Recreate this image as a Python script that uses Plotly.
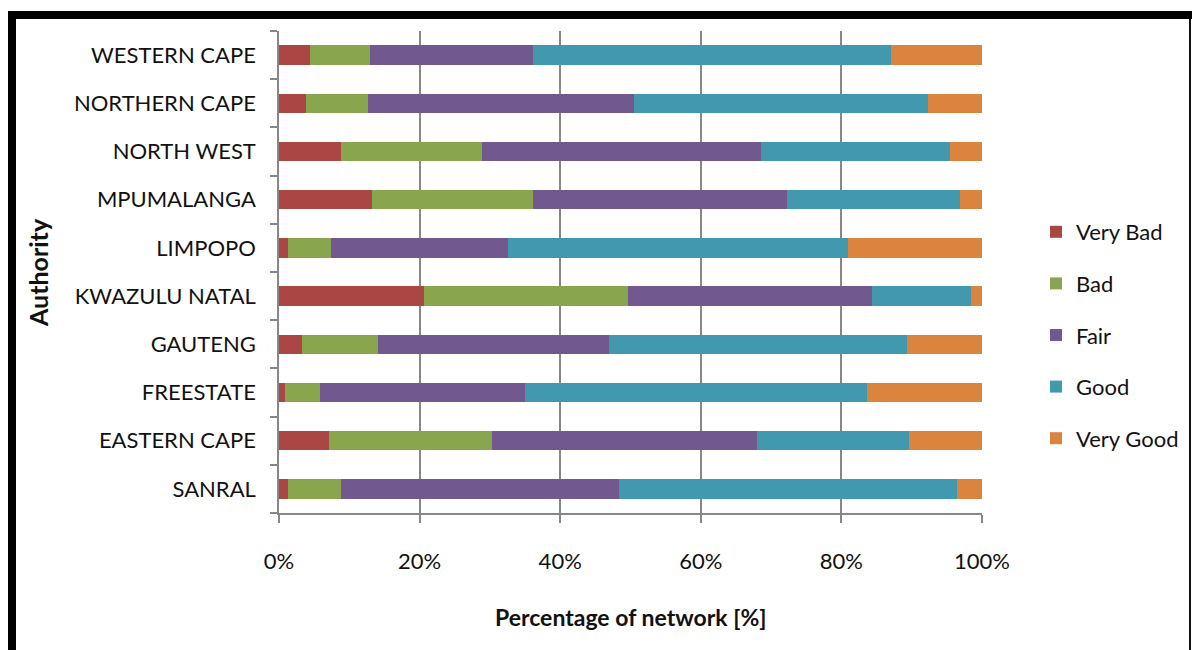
import plotly.graph_objects as go

# Categories bottom-to-top
authorities = ["SANRAL", "EASTERN CAPE", "FREESTATE", "GAUTENG", "KWAZULU NATAL",
               "LIMPOPO", "MPUMALANGA", "NORTH WEST", "NORTHERN CAPE", "WESTERN CAPE"]

very_bad  = [1.3, 7.1, 0.8, 3.3, 20.6, 1.3, 13.2, 8.8, 3.9, 4.4]
bad       = [7.5, 23.2, 5.0, 10.8, 29.1, 6.1, 23.0, 20.1, 8.8, 8.6]
fair      = [39.5, 37.7, 29.2, 32.8, 34.6, 25.2, 36.0, 39.6, 37.8, 23.2]
good      = [48.1, 21.6, 48.7, 42.4, 14.2, 48.4, 24.6, 26.9, 41.8, 50.9]
very_good = [3.6, 10.4, 16.3, 10.7, 1.5, 19.0, 3.2, 4.6, 7.7, 12.9]

series = [
    ("Very Bad", very_bad, "#AA4643"),
    ("Bad", bad, "#89A54E"),
    ("Fair", fair, "#71588F"),
    ("Good", good, "#4198AF"),
    ("Very Good", very_good, "#DB843D"),
]

tick_vals = [0, 20, 40, 60, 80, 100]
tick_text = ["0%", "20%", "40%", "60%", "80%", "100%"]

FONT = "Lato"

fig = go.Figure()
for name, vals, color in series:
    fig.add_trace(go.Bar(
        y=authorities, x=vals, name=name, orientation="h",
        marker=dict(color=color, line=dict(width=0)),
        legendgroup=name,
    ))

# pixel geometry of plot area
L, R, T, B = 279, 982, 31, 513
W, H = R - L, B - T

def px(x):
    return (x - L) / W

def py(y):
    return (B - y) / H

shapes = [
    # thick black frame: left, top, thin right
    dict(type="rect", xref="paper", yref="paper", x0=px(8), x1=px(16), y0=py(660), y1=py(11),
         fillcolor="black", line=dict(width=0), layer="above"),
    dict(type="rect", xref="paper", yref="paper", x0=px(8), x1=px(1192), y0=py(19), y1=py(11),
         fillcolor="black", line=dict(width=0), layer="above"),
    dict(type="rect", xref="paper", yref="paper", x0=px(1189), x1=px(1191), y0=py(660), y1=py(19),
         fillcolor="#111111", line=dict(width=0), layer="above"),
]

annotations = [
    dict(text="<b>Percentage of network [%]</b>", xref="paper", yref="paper",
         x=px(630), y=py(617), showarrow=False, xanchor="center", yanchor="middle",
         font=dict(family=FONT, size=23, color="#111111")),
    dict(text="<b>Authority</b>", xref="paper", yref="paper",
         x=px(38), y=py(273), showarrow=False, xanchor="center", yanchor="middle",
         textangle=-90, font=dict(family=FONT, size=25, color="#111111")),
]

fig.update_layout(
    barmode="stack",
    bargap=0.6,
    width=1192, height=650,
    margin=dict(l=L, r=1192 - R, t=T, b=650 - B, autoexpand=False),
    paper_bgcolor="white", plot_bgcolor="white",
    font=dict(family=FONT, size=22, color="#111111"),
    showlegend=True,
    legend=dict(
        x=px(1036), y=py(335), xanchor="left", yanchor="middle",
        traceorder="grouped", tracegroupgap=20,
        font=dict(family=FONT, size=22, color="#111111"),
        itemwidth=30,
        bgcolor="rgba(0,0,0,0)",
    ),
    xaxis=dict(
        range=[0, 100], tickvals=tick_vals, ticktext=tick_text,
        showgrid=True, gridcolor="#878787", gridwidth=1.5,
        ticks="outside", ticklen=8, tickcolor="#878787", tickwidth=1.5,
        ticklabelstandoff=20,
        showline=True, linecolor="#878787", linewidth=1.5,
        zeroline=False, fixedrange=True,
        tickfont=dict(family=FONT, size=22, color="#111111"),
    ),
    yaxis=dict(
        type="category", categoryorder="array", categoryarray=authorities,
        ticks="outside", tickson="boundaries", ticklen=7, tickcolor="#878787", tickwidth=1.5,
        showline=True, linecolor="#878787", linewidth=1.5,
        showgrid=False, ticklabelstandoff=17,
        tickfont=dict(family=FONT, size=22, color="#111111"),
    ),
    shapes=shapes,
    annotations=annotations,
)

fig.write_html("out.html")
